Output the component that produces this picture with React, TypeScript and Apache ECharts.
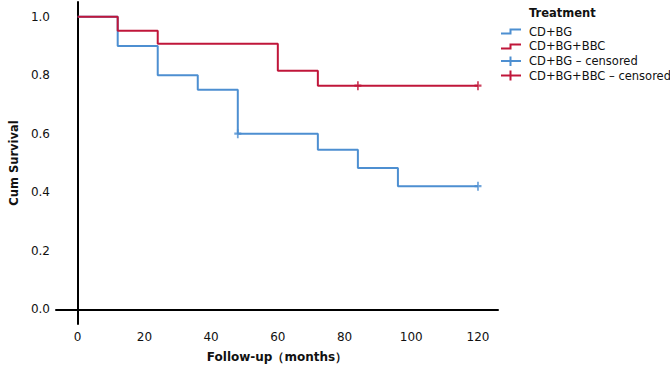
import React, { useEffect, useRef } from "react";
import * as echarts from "echarts";

const timesBG = [0, 12, 24, 36, 48, 72, 84, 96, 120];
const survBG = [1.0, 0.9, 0.8, 0.75, 0.6, 0.545, 0.483, 0.421, 0.421];
const censorBGTimes = [48, 120];
const censorBGSurv = [0.6, 0.421];

const timesBBC = [0, 12, 24, 60, 72, 120];
const survBBC = [1.0, 0.952, 0.907, 0.815, 0.764, 0.764];
const censorBBCTimes = [84, 120];
const censorBBCSurv = [0.764, 0.764];

const legendNames = ["CD+BG", "CD+BG+BBC", "CD+BG – censored", "CD+BG+BBC – censored"];
const yTicks = [0, 0.2, 0.4, 0.6, 0.8, 1.0];
const xTicks = [0, 20, 40, 60, 80, 100, 120];

const BLUE = "#4d8fd1";
const RED = "#c0163a";
const FONT = "DejaVu Sans";

export default function App() {
  const ref = useRef<HTMLDivElement>(null);
  useEffect(() => {
    if (!ref.current) return;
    const chart = echarts.init(ref.current, undefined, { renderer: "svg" });
    const zip = (a: number[], b: number[]) => a.map((t, i) => [t, b[i]]);
    const cross = "path://M5,0L5,10M0,5L10,5";
    const textStyle = { fontFamily: FONT, fontSize: 11.5, fill: "#111" };
    chart.setOption({
      animation: false,
      grid: { left: 49, right: 172, top: 2, bottom: 45 },
      xAxis: {
        type: "value",
        min: -6.5,
        max: 126,
        interval: 0.5,
        name: "Follow-up（months）",
        nameLocation: "middle",
        nameGap: 27,
        nameTextStyle: { fontFamily: FONT, fontSize: 12, fontWeight: "bold", color: "#111" },
        axisLine: { show: true, lineStyle: { color: "#000", width: 2 } },
        axisTick: { show: false },
        splitLine: { show: false },
        axisLabel: {
          interval: 0,
          margin: 7,
          fontFamily: FONT,
          fontSize: 12,
          color: "#111",
          formatter: (v: number) => (xTicks.some((t) => Math.abs(t - v) < 1e-6) ? String(Math.round(v)) : ""),
        },
      },
      yAxis: {
        type: "value",
        min: -0.05,
        max: 1.05,
        interval: 0.05,
        name: "Cum Survival",
        nameLocation: "middle",
        nameGap: 32,
        nameTextStyle: { fontFamily: FONT, fontSize: 11.5, fontWeight: "bold", color: "#111" },
        axisLine: { show: true, lineStyle: { color: "#000", width: 2 } },
        axisTick: { show: false },
        splitLine: { show: false },
        axisLabel: {
          interval: 0,
          margin: 6,
          fontFamily: FONT,
          fontSize: 12,
          color: "#111",
          formatter: (v: number) => {
            const t = yTicks.find((k) => Math.abs(k - v) < 1e-6);
            return t === undefined ? "" : t.toFixed(1);
          },
        },
      },
      series: [
        {
          name: legendNames[0],
          type: "line",
          step: "end",
          data: zip(timesBG, survBG),
          showSymbol: false,
          lineStyle: { color: BLUE, width: 2 },
          z: 2,
        },
        {
          name: legendNames[1],
          type: "line",
          step: "end",
          data: zip(timesBBC, survBBC),
          showSymbol: false,
          lineStyle: { color: RED, width: 2 },
          z: 3,
        },
        {
          name: legendNames[2],
          type: "scatter",
          data: zip(censorBGTimes, censorBGSurv),
          symbol: cross,
          symbolSize: [7, 9],
          itemStyle: { color: "none", borderColor: BLUE, borderWidth: 2 },
          z: 4,
        },
        {
          name: legendNames[3],
          type: "scatter",
          data: zip(censorBBCTimes, censorBBCSurv),
          symbol: cross,
          symbolSize: [7, 9],
          itemStyle: { color: "none", borderColor: RED, borderWidth: 2 },
          z: 5,
        },
      ],
      graphic: [
        {
          type: "text",
          left: 529,
          top: 7,
          style: { text: "Treatment", fontFamily: FONT, fontSize: 11.5, fontWeight: "bold", fill: "#111" },
        },
        {
          type: "polyline",
          shape: { points: [[501, 33.5], [510.5, 33.5], [510.5, 29.5], [521, 29.5]] },
          style: { stroke: BLUE, lineWidth: 2, fill: "none" },
        },
        {
          type: "polyline",
          shape: { points: [[501, 48.5], [510.5, 48.5], [510.5, 44.5], [521, 44.5]] },
          style: { stroke: RED, lineWidth: 2, fill: "none" },
        },
        { type: "line", shape: { x1: 501, y1: 61, x2: 521, y2: 61 }, style: { stroke: BLUE, lineWidth: 2 } },
        { type: "line", shape: { x1: 510.5, y1: 56.5, x2: 510.5, y2: 66 }, style: { stroke: BLUE, lineWidth: 2 } },
        { type: "line", shape: { x1: 501, y1: 75.5, x2: 521, y2: 75.5 }, style: { stroke: RED, lineWidth: 2 } },
        { type: "line", shape: { x1: 510.5, y1: 70.5, x2: 510.5, y2: 80.5 }, style: { stroke: RED, lineWidth: 2 } },
        { type: "text", x: 529, y: 32, style: { ...textStyle, text: legendNames[0], verticalAlign: "middle" } },
        { type: "text", x: 529, y: 46, style: { ...textStyle, text: legendNames[1], verticalAlign: "middle" } },
        { type: "text", x: 529, y: 61, style: { ...textStyle, text: legendNames[2], verticalAlign: "middle" } },
        { type: "text", x: 529, y: 76, style: { ...textStyle, text: legendNames[3], verticalAlign: "middle" } },
      ],
    });
    return () => chart.dispose();
  }, []);
  return (
    <div
      ref={ref}
      style={{ position: "absolute", left: 0, top: 0, width: 670, height: 369, background: "#fff" }}
    />
  );
}
